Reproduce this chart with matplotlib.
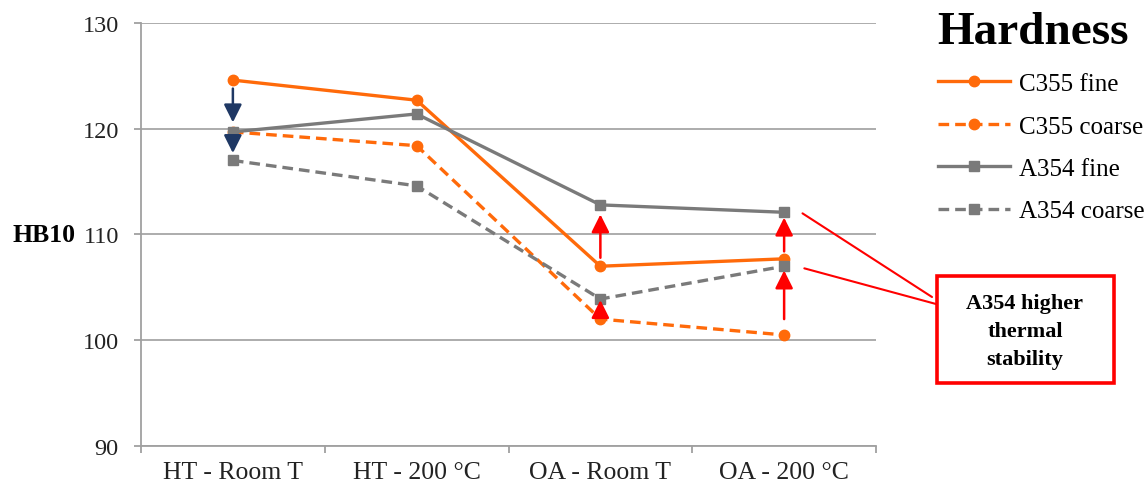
import numpy as np
import matplotlib.pyplot as plt
from matplotlib.patches import Rectangle

# Data
conditions = ["HT - Room T", "HT - 200 °C", "OA - Room T", "OA - 200 °C"]
c355_fine = [124.6, 122.7, 107.0, 107.7]
c355_coarse = [119.7, 118.4, 102.0, 100.5]
a354_fine = [119.7, 121.4, 112.8, 112.1]
a354_coarse = [117.0, 114.6, 103.9, 107.0]

orange = "#FF6A0A"
grey = "#7A7A7A"
navy = "#1F3864"

plt.rcParams["font.family"] = ["Liberation Serif", "DejaVu Serif"]

fig = plt.figure(figsize=(11.47, 4.89), dpi=100)
ax = fig.add_axes([141 / 1147, 1 - 447 / 489, 735 / 1147, 423 / 489])

x = np.arange(1, len(conditions) + 1)
lw = 2.4
dash = (3.2, 1.8)
ax.plot(x, c355_fine, color=orange, lw=lw, marker="o", ms=7.5, label="C355 fine", zorder=3)
ax.plot(x, c355_coarse, color=orange, lw=lw, marker="o", ms=7.5, dashes=dash, label="C355 coarse", zorder=3)
ax.plot(x, a354_fine, color=grey, lw=lw, marker="s", ms=7, label="A354 fine", zorder=3)
ax.plot(x, a354_coarse, color=grey, lw=lw, marker="s", ms=7, dashes=dash, label="A354 coarse", zorder=3)

ax.set_xlim(0.5, 4.5)
ax.set_ylim(90, 130)
ax.set_yticks([90, 100, 110, 120, 130])
ax.set_xticks(np.arange(0.5, 4.6, 1))
ax.set_xticklabels([])
ax.set_xticks(x, minor=True)
ax.set_xticklabels(conditions, minor=True)
ax.tick_params(axis="x", which="minor", length=0, pad=11, labelsize=18.5, labelcolor="#222222")
ax.tick_params(axis="x", which="major", length=5, color="#A0A0A0", width=1.3)
ax.tick_params(axis="y", length=5, color="#A0A0A0", width=1.3, pad=11, labelsize=17.5, labelcolor="#222222")

ax.grid(axis="y", color="#A6A6A6", lw=1.3, zorder=0)
for s in ["top", "right"]:
    ax.spines[s].set_visible(False)
for s in ["left", "bottom"]:
    ax.spines[s].set_color("#A0A0A0")
    ax.spines[s].set_linewidth(1.3)

ax.set_ylabel("HB10", rotation=0, fontsize=18.5, fontweight="bold", ha="right", va="center")
ax.yaxis.set_label_coords(-0.089, 0.5)

# navy arrows at HT - Room T
navy_arrow = dict(arrowstyle="-|>", color=navy, lw=1.8, mutation_scale=27, shrinkA=0, shrinkB=0)
ax.annotate("", xy=(1, 120.6), xytext=(1, 123.8), arrowprops=navy_arrow)
ax.annotate("", xy=(1, 117.7), xytext=(1, 119.0), arrowprops=navy_arrow)

# red arrows at OA
red_arrow = dict(arrowstyle="-|>", color="red", lw=1.8, mutation_scale=27, shrinkA=0, shrinkB=0)
ax.annotate("", xy=(3, 111.9), xytext=(3, 107.8), arrowprops=red_arrow)
ax.annotate("", xy=(3, 103.8), xytext=(3, 102.4), arrowprops=red_arrow)
ax.annotate("", xy=(4, 111.6), xytext=(4, 108.4), arrowprops=red_arrow)
ax.annotate("", xy=(4, 106.6), xytext=(4, 102.0), arrowprops=red_arrow)

# annotation box
line_style = dict(arrowstyle="-", color="red", lw=1.5, shrinkA=0, shrinkB=0)
ax.annotate("", xy=(4.1, 112.0), xytext=(932, 489 - 298), textcoords="figure pixels",
            arrowprops=line_style, annotation_clip=False)
ax.annotate("", xy=(4.11, 106.8), xytext=(936, 489 - 305), textcoords="figure pixels",
            arrowprops=line_style, annotation_clip=False)
fig.patches.append(Rectangle((937 / 1147, 1 - 384 / 489), 177 / 1147, 107 / 489,
                             transform=fig.transFigure, fc="white", ec="red", lw=2.6, zorder=5))
fig.text(1025 / 1147, 1 - 332 / 489, "A354 higher\nthermal\nstability", ha="center", va="center",
         fontsize=16, fontweight="bold", linespacing=1.55, zorder=6)

# legend
fig.text(937 / 1147, 1 - 33 / 489, "Hardness", fontsize=34, fontweight="bold", va="center", ha="left")
fig.legend(loc="upper left", bbox_to_anchor=(930 / 1147, 1 - 66 / 489), frameon=False,
           fontsize=18, handlelength=2.9, handletextpad=0.35, labelspacing=0.8,
           borderaxespad=0, borderpad=0.3)

fig.savefig("out.png", dpi=100)
